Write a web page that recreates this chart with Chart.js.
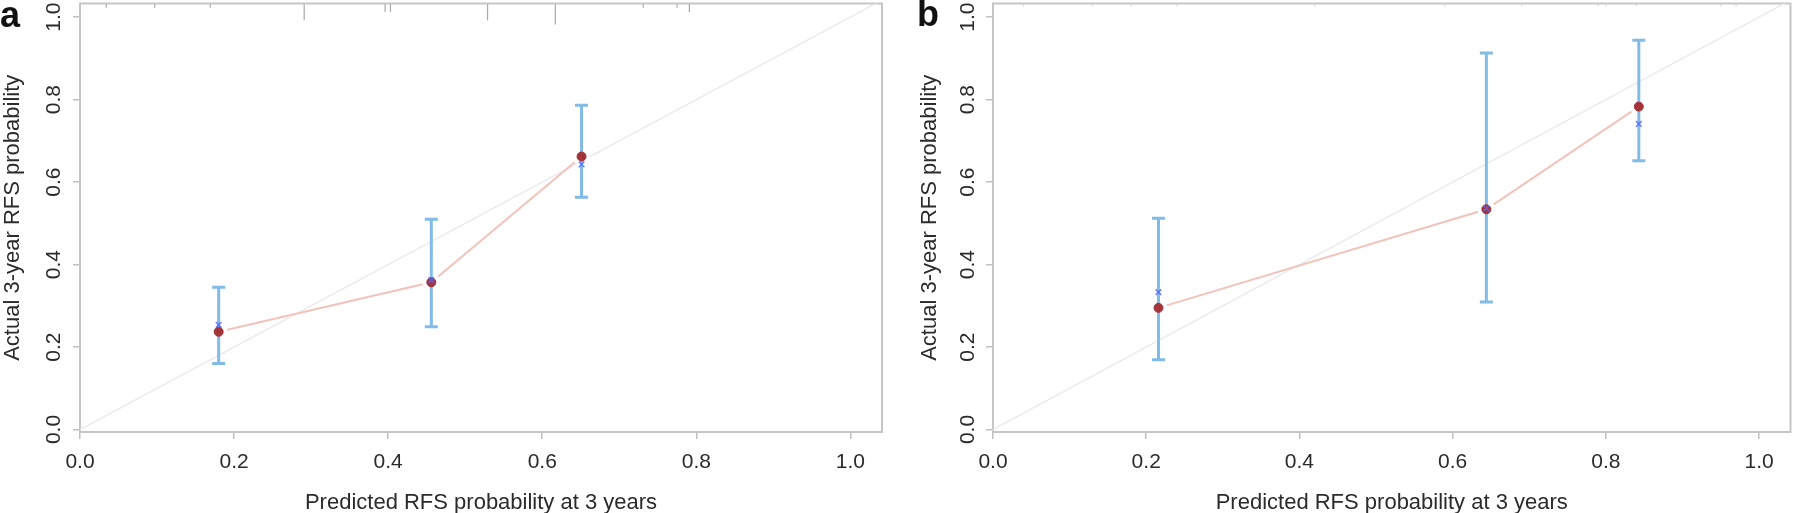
<!DOCTYPE html>
<html>
<head>
<meta charset="utf-8">
<script src="https://cdn.jsdelivr.net/npm/chart.js@4.4.1/dist/chart.umd.min.js"></script>
<style>
  html, body { margin: 0; padding: 0; background: #fff; }
  #wrap { position: relative; width: 1800px; height: 513px; overflow: hidden; }
  canvas { position: absolute; top: -6px; }
  #calA { left: 0; }
  #calB { left: 900px; }
  .tag { position: absolute; font: bold 36px 'Liberation Sans', Arial, sans-serif; line-height: 36px; color: #111; }
  #tagA { left: 0; top: -3px; }
  #tagB { left: 917px; top: -4px; }
</style>
</head>
<body>
<div id="wrap">
  <canvas id="calA" width="900" height="519"></canvas>
  <canvas id="calB" width="900" height="519"></canvas>
  <div class="tag" id="tagA">a</div>
  <div class="tag" id="tagB">b</div>
</div>
<script>
const tickVals = [0, 0.2, 0.4, 0.6, 0.8, 1.0];
const xTitle = 'Predicted RFS probability at 3 years';
const yTitle = 'Actual 3-year RFS probability';
const ideal = [0, 1.05];

// panel a
const predA = [0.180, 0.456, 0.651];
const obsA  = [0.237, 0.357, 0.662];
const kmA   = [0.254, 0.362, 0.643];
const loA   = [0.160, 0.249, 0.563];
const hiA   = [0.345, 0.510, 0.786];
const rugXA = [0.034, 0.097, 0.169, 0.291, 0.396, 0.403, 0.529, 0.617, 0.731, 0.775, 0.791];
const rugNA = [1, 1, 1, 4, 2, 2, 4, 5, 1, 1, 2];

// panel b
const predB = [0.216, 0.644, 0.843];
const obsB  = [0.295, 0.534, 0.783];
const kmB   = [0.333, 0.536, 0.741];
const loB   = [0.169, 0.309, 0.652];
const hiB   = [0.512, 0.913, 0.944];
const rugXB = [0.04, 0.13, 0.18, 0.24, 0.42, 0.59, 0.69, 0.79, 0.80, 0.84, 0.95, 0.97];
const rugNB = [1, 1, 1, 1, 1, 1, 1, 1, 1, 1, 1, 1];

const FONT = "'Liberation Sans', Arial, sans-serif";
const TXT = '#2b2b2b';

// box round the plot + rug of predicted values hanging from the top
const frame = {
    id: 'frame',
    beforeDatasetsDraw(chart, args, opts) {
        const { ctx, chartArea: a, scales } = chart;
        ctx.save();
        ctx.strokeStyle = opts.rugColor;
        ctx.lineWidth = 1.2;
        opts.rugX.forEach((v, i) => {
            const px = scales.x.getPixelForValue(v);
            ctx.beginPath();
            ctx.moveTo(px, a.top);
            ctx.lineTo(px, a.top + opts.rugN[i] * opts.rugUnit);
            ctx.stroke();
        });
        ctx.strokeStyle = '#c6c6c6';
        ctx.lineWidth = 2;
        ctx.strokeRect(a.left, a.top, a.right - a.left, a.bottom - a.top);
        ctx.restore();
    }
};

function errPoints(x, lo, hi) {
    const pts = [];
    x.forEach((v, i) => {
        pts.push({ x: v, y: lo[i] }, { x: v, y: hi[i] }, { x: v, y: null });
    });
    return pts;
}

function makeChart(id, d) {
    const ctx = document.getElementById(id).getContext('2d');
    const obsPts = d.pred.map((v, i) => ({ x: v, y: d.obs[i] }));
    return new Chart(ctx, {
        type: 'scatter',
        data: {
            datasets: [{
                label: 'KM',
                data: d.pred.map((v, i) => ({ x: v, y: d.km[i] })),
                showLine: false,
                pointStyle: 'crossRot',
                pointRadius: 4,
                pointBorderWidth: 1.5,
                pointBorderColor: 'rgba(85,105,255,0.85)',
                pointBackgroundColor: 'rgba(0,0,0,0)'
            }, {
                label: 'Observed',
                data: obsPts,
                showLine: false,
                pointRadius: 4.5,
                pointBackgroundColor: '#a3343a',
                pointBorderColor: '#a3343a'
            }, {
                label: 'CI',
                data: errPoints(d.pred, d.lo, d.hi),
                showLine: true,
                spanGaps: false,
                borderColor: '#82bbe6',
                borderWidth: 3,
                pointStyle: 'line',
                pointRadius: 6.5,
                pointBorderWidth: 3,
                pointBorderColor: '#82bbe6'
            }, {
                // connecting line, broken round each point like R's type = "b"
                label: 'Observed line',
                data: obsPts,
                showLine: true,
                borderColor: '#f2c3bb',
                borderWidth: 2,
                pointRadius: 9,
                pointBorderWidth: 0,
                pointBackgroundColor: '#ffffff'
            }, {
                label: 'Ideal',
                data: ideal.map(v => ({ x: v, y: v })),
                showLine: true,
                borderColor: '#ebebeb',
                borderWidth: 1.5,
                pointRadius: 0
            }]
        },
        options: {
            responsive: false,
            animation: false,
            events: [],
            layout: { padding: { top: 0, right: d.padRight, bottom: 0, left: 0 } },
            plugins: {
                legend: { display: false },
                tooltip: { enabled: false },
                frame: { rugX: d.rugX, rugN: d.rugN, rugColor: d.rugColor, rugUnit: d.rugUnit }
            },
            scales: {
                x: {
                    type: 'linear', min: 0, max: 1.041,
                    afterBuildTicks: s => { s.ticks = tickVals.map(v => ({ value: v })); },
                    afterFit: s => { s.height = 81; s.paddingLeft = 0; s.paddingRight = 0; },
                    border: { display: false },
                    grid: { drawOnChartArea: false, drawTicks: true, tickLength: 7, color: '#c0c0c0', lineWidth: 1.5 },
                    ticks: { padding: 11, color: TXT, font: { family: FONT, size: 21 }, maxRotation: 0, autoSkip: false,
                             callback: v => v.toFixed(1) },
                    title: { display: true, text: xTitle, color: TXT, font: { family: FONT, size: 22, lineHeight: 0.9 }, padding: { top: 0, bottom: 0 } }
                },
                y: {
                    type: 'linear', min: -0.006, max: 1.033,
                    afterBuildTicks: s => { s.ticks = tickVals.map(v => ({ value: v })); },
                    afterFit: s => { s.width = d.yWidth; s.paddingTop = 0; s.paddingBottom = 0; },
                    border: { display: false },
                    grid: { drawOnChartArea: false, drawTicks: true, tickLength: 7, color: '#c0c0c0', lineWidth: 1.5 },
                    ticks: { padding: d.tickPad, color: TXT, font: { family: FONT, size: 21 }, minRotation: 90, maxRotation: 90,
                             crossAlign: 'center', autoSkip: false, callback: v => v.toFixed(1) },
                    title: { display: true, text: yTitle, color: TXT, font: { family: FONT, size: 22 }, padding: { top: d.titlePad, bottom: 0 } }
                }
            }
        },
        plugins: [frame]
    });
}

makeChart('calA', {
    pred: predA, obs: obsA, km: kmA, lo: loA, hi: hiA,
    rugX: rugXA, rugN: rugNA, rugColor: '#a8a8a8', rugUnit: 4.2,
    padRight: 18, yWidth: 80, tickPad: 4, titlePad: 0
});
makeChart('calB', {
    pred: predB, obs: obsB, km: kmB, lo: loB, hi: hiB,
    rugX: rugXB, rugN: rugNB, rugColor: '#dedede', rugUnit: 3,
    padRight: 3, yWidth: 93, tickPad: 3, titlePad: 17
});
</script>
</body>
</html>
